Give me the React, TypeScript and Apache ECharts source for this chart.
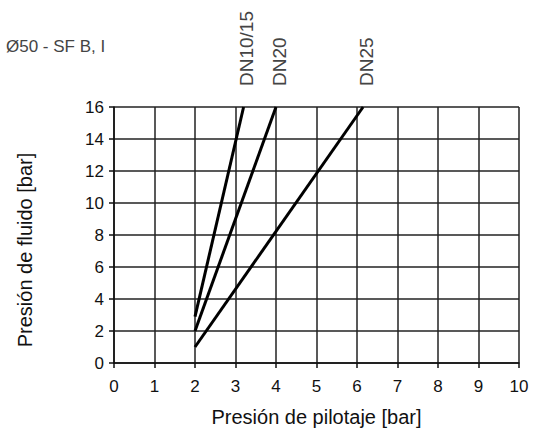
import React, { useEffect, useRef } from "react";
import * as echarts from "echarts";

const titleText = "Ø50 - SF B, I";
const xName = "Presión de pilotaje [bar]";
const yName = "Presión de fluido [bar]";
const seriesNames = ["DN10/15", "DN20", "DN25"];
const dn1015: number[][] = [[2, 2.9], [3.2, 16]];
const dn20: number[][] = [[2, 2], [4, 16]];
const dn25: number[][] = [[2, 1], [6.15, 16]];
const seriesData = [dn1015, dn20, dn25];

export default function App() {
  const ref = useRef<HTMLDivElement>(null);
  useEffect(() => {
    document.body.style.margin = "0";
    if (!ref.current) return;
    const chart = echarts.init(ref.current, undefined, { renderer: "svg" });
    const axisColor = "#111";
    chart.setOption({
      animation: false,
      backgroundColor: "#fff",
      grid: { left: 114, right: 20, top: 107, bottom: 69, containLabel: false },
      xAxis: {
        type: "value",
        min: 0,
        max: 10,
        interval: 1,
        name: xName,
        nameLocation: "middle",
        nameGap: 44,
        nameTextStyle: { fontSize: 20, color: "#111", fontFamily: "Liberation Sans" },
        axisLine: { show: true, lineStyle: { color: axisColor, width: 1.5 } },
        axisTick: { show: true, length: 5, lineStyle: { color: axisColor, width: 1.5 } },
        splitLine: { show: true, lineStyle: { color: "#222", width: 1.5 } },
        axisLabel: { fontSize: 17, color: "#111", margin: 15, fontFamily: "Liberation Sans" },
      },
      yAxis: {
        type: "value",
        min: 0,
        max: 16,
        interval: 2,
        axisLine: { show: true, lineStyle: { color: axisColor, width: 1.5 } },
        axisTick: { show: true, length: 5, lineStyle: { color: axisColor, width: 1.5 } },
        splitLine: { show: true, lineStyle: { color: "#222", width: 1.5 } },
        axisLabel: { fontSize: 17, color: "#111", margin: 10, fontFamily: "Liberation Sans" },
      },
      series: seriesData.map((d, i) => ({
        type: "line",
        name: seriesNames[i],
        data: d,
        symbol: "none",
        lineStyle: { color: "#000", width: 3 },
      })),
    });
    const labels = seriesData.map((d, i) => {
      const last = d[d.length - 1];
      const p = chart.convertToPixel({ gridIndex: 0 }, last) as number[];
      return {
        type: "text",
        x: p[0] + 3,
        y: 86,
        rotation: Math.PI / 2,
        style: {
          text: seriesNames[i],
          fontSize: 19,
          fill: "#444",
          fontFamily: "Liberation Sans",
          align: "left",
          verticalAlign: "middle",
        },
      };
    });
    chart.setOption({
      graphic: [
        {
          type: "text",
          x: 6,
          y: 46,
          style: {
            text: titleText,
            fontSize: 17,
            fill: "#444",
            fontFamily: "Liberation Sans",
            align: "left",
            verticalAlign: "middle",
          },
        },
        {
          type: "text",
          x: 25,
          y: 250,
          rotation: Math.PI / 2,
          style: {
            text: yName,
            fontSize: 20,
            fill: "#111",
            fontFamily: "Liberation Sans",
            align: "center",
            verticalAlign: "middle",
          },
        },
        ...labels,
      ],
    });
    return () => chart.dispose();
  }, []);
  return <div ref={ref} style={{ width: 539, height: 432 }} />;
}
